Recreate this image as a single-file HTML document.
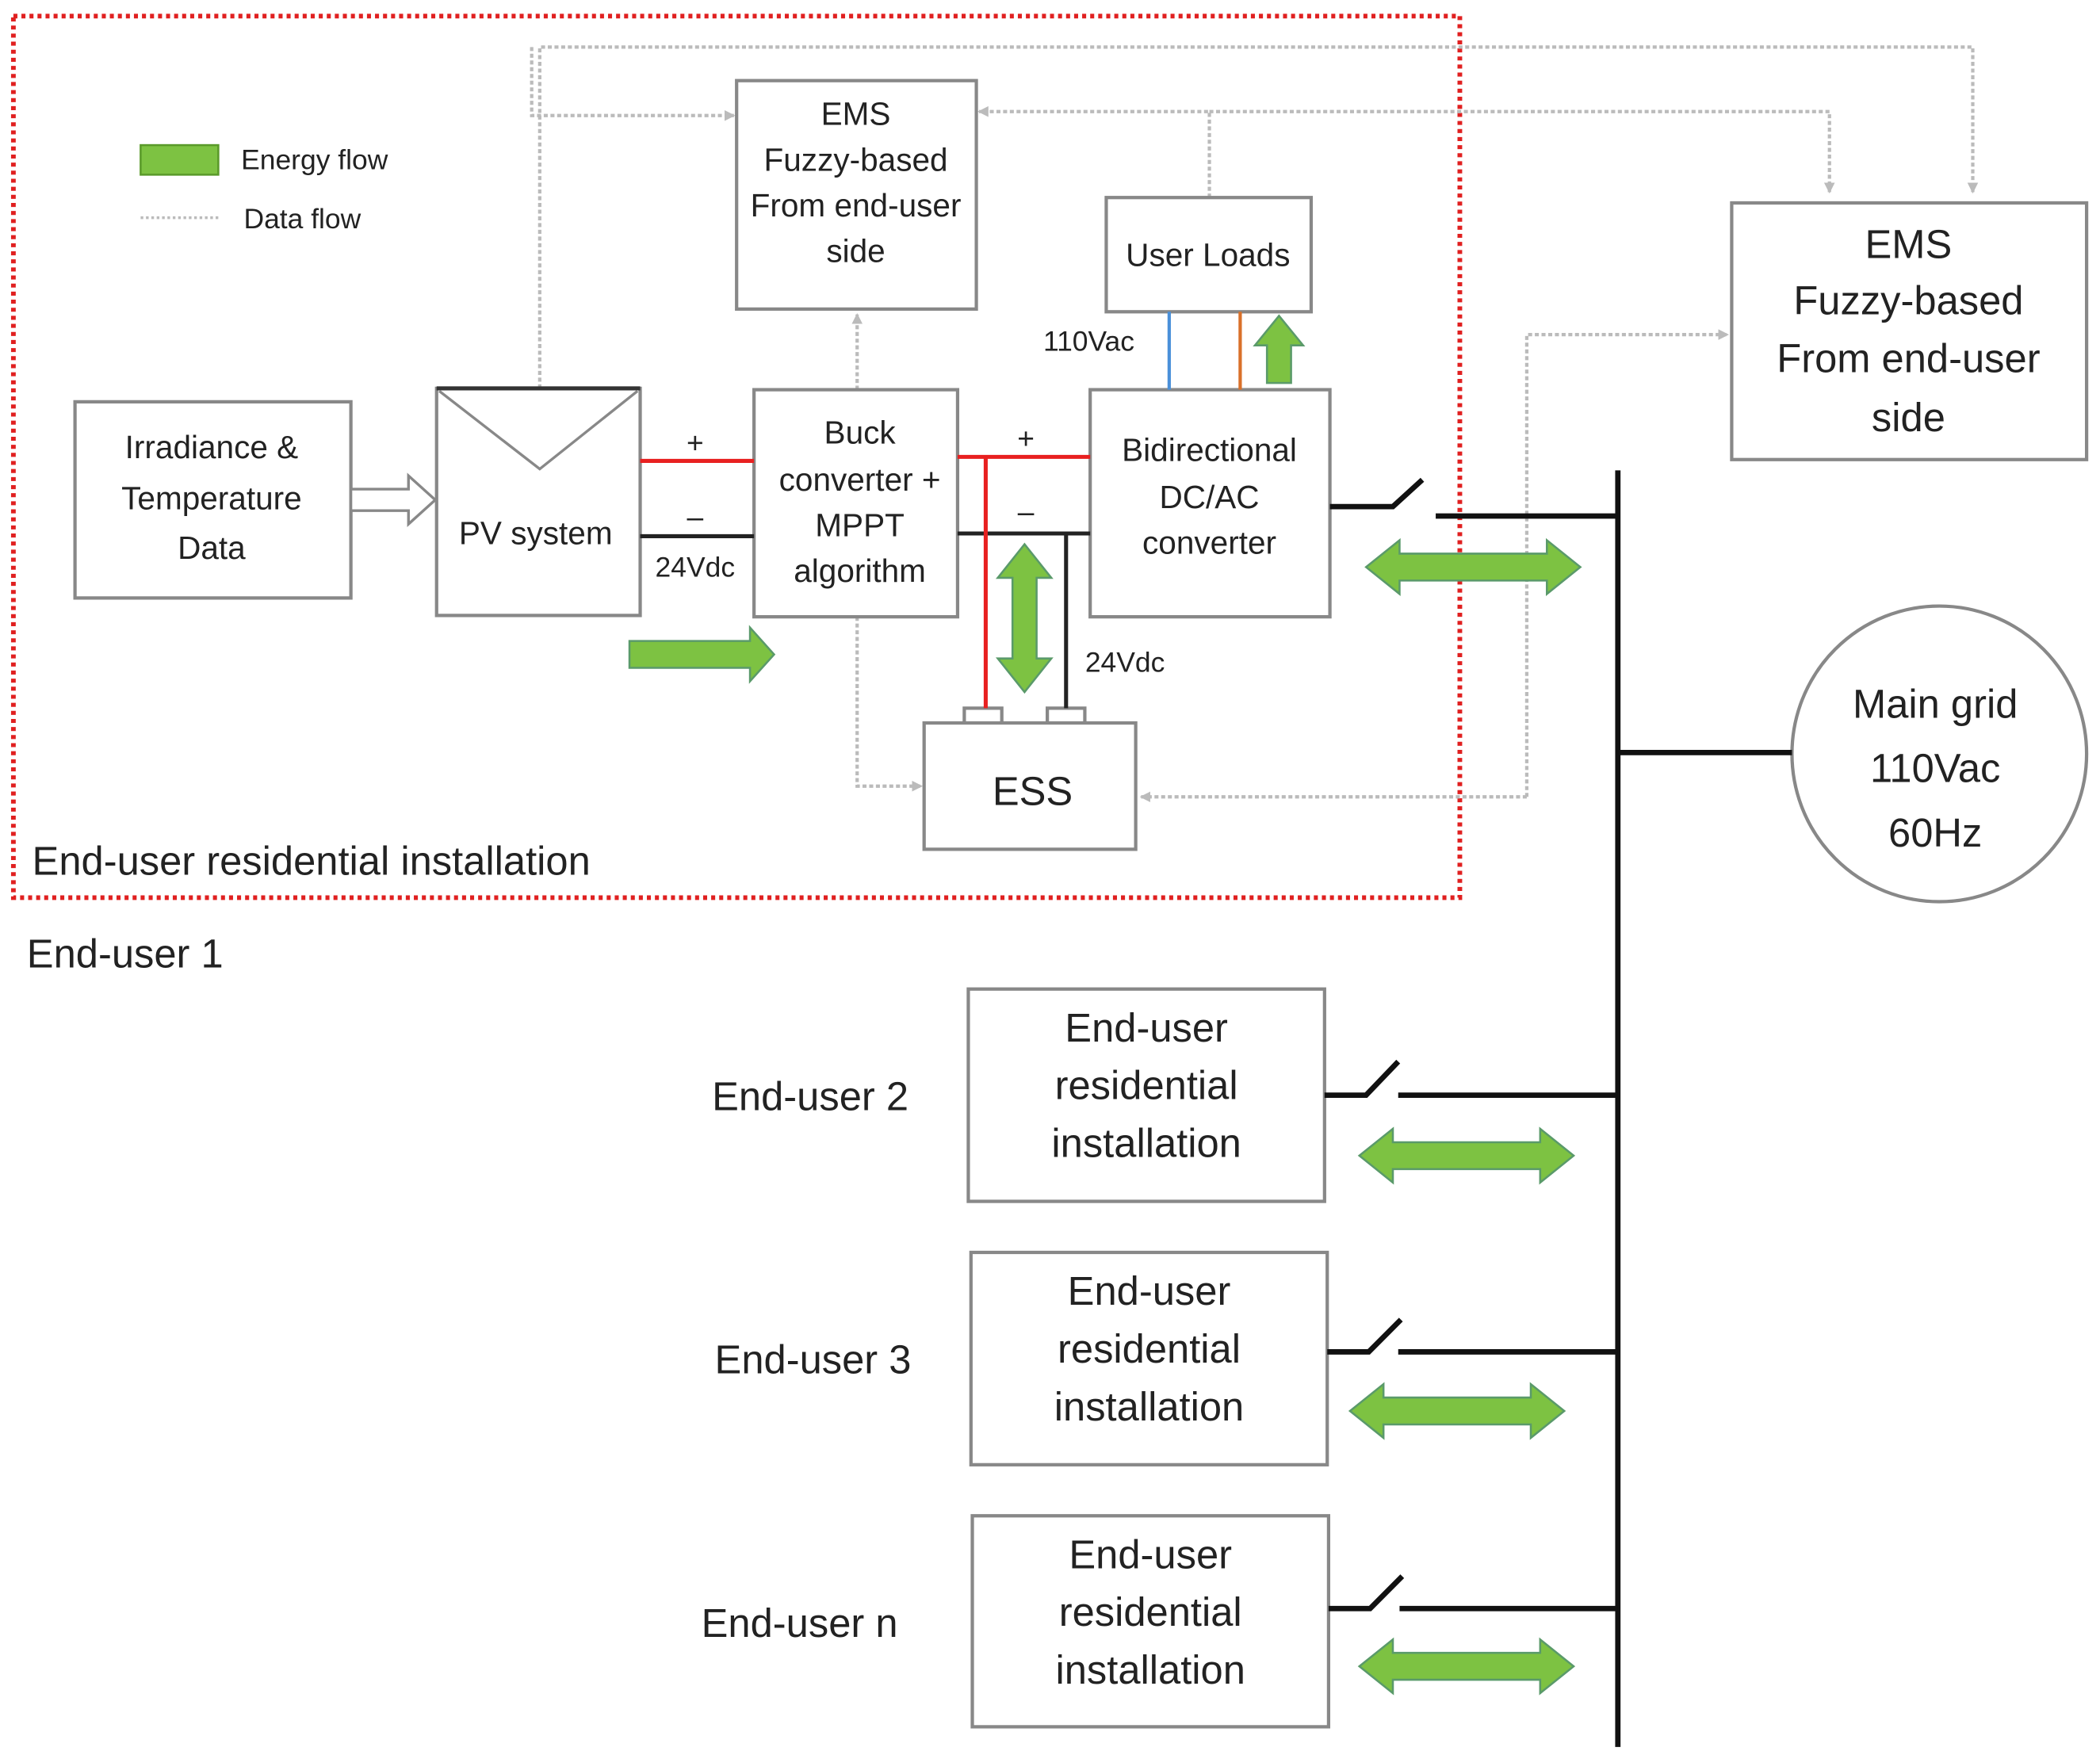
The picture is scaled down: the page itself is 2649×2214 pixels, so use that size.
<!DOCTYPE html>
<html><head><meta charset="utf-8"><style>
html,body{margin:0;padding:0;background:#fff;}
svg{display:block;}
text{font-family:"Liberation Sans",sans-serif;fill:#222;}
</style></head><body>
<svg width="2649" height="2214" viewBox="0 0 1568 1306" preserveAspectRatio="none" xmlns="http://www.w3.org/2000/svg">
<defs>
<marker id="ga" markerWidth="8" markerHeight="8" refX="7" refY="4" orient="auto" markerUnits="userSpaceOnUse"><path d="M0,0 L8,4 L0,8 z" fill="#bbb"/></marker>
</defs>
<!-- red dotted boundary -->
<rect x="10" y="12" width="1080" height="656" fill="none" stroke="#e02020" stroke-width="3.5" stroke-dasharray="3,3"/>
<!-- data flows -->
<g fill="none" stroke="#bbb" stroke-width="2.5" stroke-dasharray="3,2">
<path d="M403,289 V35 H1473 V143" marker-end="url(#ga)"/>
<path d="M397,35 V86 H548" marker-end="url(#ga)"/>
<path d="M903,147 V83 H731" marker-end="url(#ga)"/>
<path d="M903,83 H1366 V143" marker-end="url(#ga)"/>
<path d="M640,290 V234" marker-end="url(#ga)"/>
<path d="M640,459 V585 H688" marker-end="url(#ga)"/>
<path d="M1140,593 V249 H1290" marker-end="url(#ga)"/>
<path d="M1140,593 H852" marker-end="url(#ga)"/>
</g>
<!-- legend -->
<rect x="105" y="108" width="58" height="22" fill="#7dc242" stroke="#5a9a2a" stroke-width="1.5"/>
<text x="180" y="126" font-size="21">Energy flow</text>
<line x1="105" y1="162" x2="163" y2="162" stroke="#bbb" stroke-width="2" stroke-dasharray="2,2"/>
<text x="182" y="170" font-size="21">Data flow</text>
<!-- boxes -->
<g fill="#fff" stroke="#888" stroke-width="2.5">
<rect x="550" y="60" width="179" height="170"/>
<rect x="826" y="147" width="153" height="85"/>
<rect x="56" y="299" width="206" height="146"/>
<rect x="326" y="289" width="152" height="169"/>
<rect x="563" y="290" width="152" height="169"/>
<rect x="814" y="290" width="179" height="169"/>
<rect x="720" y="527" width="28" height="12"/>
<rect x="782" y="527" width="28" height="12"/>
<rect x="690" y="538" width="158" height="94"/>
<rect x="1293" y="151" width="265" height="191"/>
<rect x="723" y="736" width="266" height="158"/>
<rect x="725" y="932" width="266" height="158"/>
<rect x="726" y="1128" width="266" height="157"/>
<circle cx="1448" cy="561" r="110"/>
</g>
<line x1="326" y1="289" x2="478" y2="289" stroke="#333" stroke-width="3"/>
<path d="M328,291 L403,349 L476,291" fill="none" stroke="#888" stroke-width="2"/>
<!-- text -->
<g font-size="24" text-anchor="middle">
<text x="639" y="93">EMS</text><text x="639" y="127">Fuzzy-based</text><text x="639" y="161">From end-user</text><text x="639" y="195">side</text>
<text x="902" y="198">User Loads</text>
<text x="158" y="341">Irradiance &amp;</text><text x="158" y="379">Temperature</text><text x="158" y="416">Data</text>
<text x="400" y="405">PV system</text>
<text x="642" y="330">Buck</text><text x="642" y="365">converter +</text><text x="642" y="399">MPPT</text><text x="642" y="433">algorithm</text>
<text x="903" y="343">Bidirectional</text><text x="903" y="378">DC/AC</text><text x="903" y="412">converter</text>
<text x="771" y="599" font-size="30">ESS</text>
</g>
<g font-size="30" text-anchor="middle">
<text x="1425" y="192">EMS</text><text x="1425" y="234">Fuzzy-based</text><text x="1425" y="277">From end-user</text><text x="1425" y="321">side</text>
<text x="1445" y="534">Main grid</text><text x="1445" y="582">110Vac</text><text x="1445" y="630">60Hz</text>
<text x="856" y="775">End-user</text><text x="856" y="818">residential</text><text x="856" y="861">installation</text>
<text x="858" y="971">End-user</text><text x="858" y="1014">residential</text><text x="858" y="1057">installation</text>
<text x="859" y="1167">End-user</text><text x="859" y="1210">residential</text><text x="859" y="1253">installation</text>
<text x="605" y="826">End-user 2</text>
<text x="607" y="1022">End-user 3</text>
<text x="597" y="1218">End-user n</text>
</g>
<text x="24" y="651" font-size="30">End-user residential installation</text>
<text x="20" y="720" font-size="30">End-user 1</text>
<g font-size="21" text-anchor="middle">
<text x="519" y="337" font-size="22">+</text><text x="519" y="392" font-size="22">–</text><text x="519" y="429">24Vdc</text>
<text x="766" y="334" font-size="22">+</text><text x="766" y="388" font-size="22">–</text>
<text x="840" y="500">24Vdc</text>
<text x="813" y="261">110Vac</text>
</g>
<!-- electrical lines -->
<line x1="478" y1="343" x2="563" y2="343" stroke="#e82020" stroke-width="3"/>
<line x1="478" y1="399" x2="563" y2="399" stroke="#222" stroke-width="3"/>
<line x1="715" y1="340" x2="814" y2="340" stroke="#e82020" stroke-width="3"/>
<line x1="715" y1="397" x2="814" y2="397" stroke="#222" stroke-width="3"/>
<line x1="736" y1="340" x2="736" y2="527" stroke="#e82020" stroke-width="3"/>
<line x1="796" y1="397" x2="796" y2="527" stroke="#222" stroke-width="3"/>
<line x1="873" y1="232" x2="873" y2="290" stroke="#4a90d9" stroke-width="2.5"/>
<line x1="926" y1="232" x2="926" y2="290" stroke="#d9702a" stroke-width="2.5"/>
<!-- bus -->
<g stroke="#111" stroke-width="4" fill="none">
<line x1="1208" y1="350" x2="1208" y2="1300"/>
<line x1="1208" y1="560" x2="1338" y2="560"/>
<path d="M993,377 H1040 L1062,357"/><line x1="1072" y1="384" x2="1208" y2="384"/>
<path d="M989,815 H1020 L1044,790"/><line x1="1044" y1="815" x2="1208" y2="815"/>
<path d="M991,1006 H1022 L1046,982"/><line x1="1044" y1="1006" x2="1208" y2="1006"/>
<path d="M992,1197 H1023 L1047,1173"/><line x1="1045" y1="1197" x2="1208" y2="1197"/>
</g>
<!-- hollow arrow -->
<path d="M262,364 H305 V354 L325,372 L305,390 V380 H262 z" fill="#fff" stroke="#888" stroke-width="2"/>
<!-- green arrows -->
<g fill="#7dc242" stroke="#5a9a6a" stroke-width="1.5">
<path d="M470,477 H560 V467 L578,487 L560,507 V497 H470 z"/>
<path d="M765,405 L785,430 H774 V490 H785 L765,515 L745,490 H756 V430 H745 z"/>
<path d="M955,235 L973,257 H964 V285 H946 V257 H937 z"/>
<path d="M1020,422 L1045,402 V412 H1155 V402 L1180,422 L1155,442 V432 H1045 V442 z"/>
<path d="M1015,860 L1040,840 V850 H1150 V840 L1175,860 L1150,880 V870 H1040 V880 z"/>
<path d="M1008,1050 L1033,1030 V1040 H1143 V1030 L1168,1050 L1143,1070 V1060 H1033 V1070 z"/>
<path d="M1015,1240 L1040,1220 V1230 H1150 V1220 L1175,1240 L1150,1260 V1250 H1040 V1260 z"/>
</g>
</svg>
</body></html>
